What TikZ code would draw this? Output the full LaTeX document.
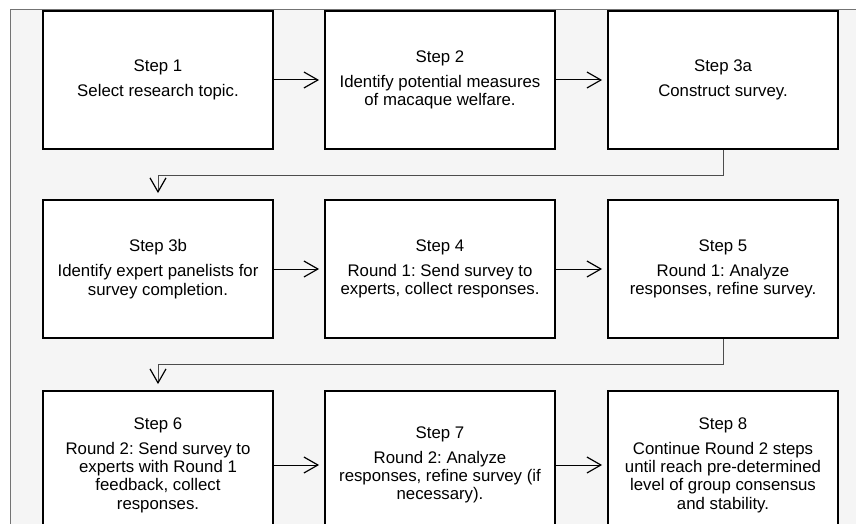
\documentclass[tikz,border=0pt]{standalone}
\usepackage{fontspec}
\setmainfont{Liberation Sans}
\usetikzlibrary{positioning, calc, arrows.meta}
\frenchspacing

\begin{document}
\begin{tikzpicture}[
    x=1pt, y=-1pt,
    stepbox/.style  = {rectangle, draw=black, line width=1.8pt, fill=white,
                       minimum width=230pt, minimum height=138pt,
                       font=\fontsize{16.8}{18.2}\selectfont, inner sep=4pt,
                       align=center},
    conn/.style     = {line width=1pt, draw=black, shorten >=5pt,
                       -{Straight Barb[length=14pt, width=16pt, line width=1.2pt]}},
    turnconn/.style = {line width=1pt, draw=black!70, shorten >=6pt,
                       -{Straight Barb[length=14pt, width=16pt, line width=1.2pt, black]}},
]

%% ============================================================
%% PANEL (clipped at the right and bottom)
%% ============================================================
\useasboundingbox (0,0) rectangle (856,524);
\clip (0,0) rectangle (856,524);
\fill[black!4] (10,10) rectangle (880,560);
\draw[black!55, line width=1pt] (10,560) -- (10,10) -- (880,10);

%% ============================================================
%% STEPS (three rows, left to right)
%% ============================================================

\node[stepbox] (step1)  at (158, 80)  {Step 1\\[7pt]Select research topic.};
\node[stepbox] (step2)  at (440, 80)  {Step 2\\[7pt]Identify potential measures\\of macaque welfare.};
\node[stepbox] (step3a) at (723, 80)  {Step 3a\\[7pt]Construct survey.};

\node[stepbox] (step3b) at (158, 269) {Step 3b\\[7pt]Identify expert panelists for\\survey completion.};
\node[stepbox] (step4)  at (440, 269) {Step 4\\[7pt]Round 1: Send survey to\\experts, collect responses.};
\node[stepbox] (step5)  at (723, 269) {Step 5\\[7pt]Round 1: Analyze\\responses, refine survey.};

%% last row runs past the lower edge
\node[stepbox, minimum height=148pt] (step6) at (158, 465)
    {Step 6\\[7pt]Round 2: Send survey to\\experts with Round 1\\feedback, collect\\responses.};
\node[stepbox, minimum height=148pt] (step7) at (440, 465)
    {Step 7\\[7pt]Round 2: Analyze\\responses, refine survey (if\\necessary).};
\node[stepbox, minimum height=148pt] (step8) at (723, 465)
    {Step 8\\[7pt]Continue Round 2 steps\\until reach pre-determined\\level of group consensus\\and stability.};

%% ============================================================
%% CONNECTIONS
%% ============================================================

%% within a row
\draw[conn] (step1.east)  -- (step2.west);
\draw[conn] (step2.east)  -- (step3a.west);
\draw[conn] (step3b.east) -- (step4.west);
\draw[conn] (step4.east)  -- (step5.west);
\draw[conn] (step6.east)  -- (step7.west);
\draw[conn] (step7.east)  -- (step8.west);

%% wrap to the next row
\draw[turnconn] (step3a.south) -- ++(0,26) -| (step3b.north);
\draw[turnconn] (step5.south)  -- ++(0,26) -| (step6.north);

\end{tikzpicture}
\end{document}
